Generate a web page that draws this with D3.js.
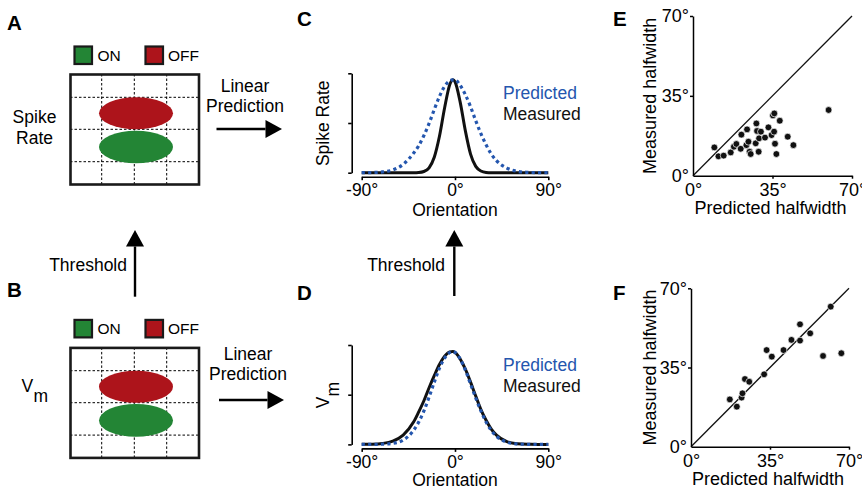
<!DOCTYPE html>
<html>
<head>
<meta charset="utf-8">
<script src="https://cdnjs.cloudflare.com/ajax/libs/d3/7.8.5/d3.min.js"></script>
<style>
body { margin: 0; background: #fff; }
svg { font-family: 'Liberation Sans', Arial, Helvetica, sans-serif; }
</style>
</head>
<body>
<div id="grafico"></div>
<script>
// tuning curves, normalised to peak
const orientations = [-90, -80, -70, -60, -50, -40, -35, -30, -25, -20, -15, -10, -5, -2, 0, 5, 10, 15, 20, 25, 30, 35, 40, 50, 60, 70, 80, 90]
const spikeMeasured = [0, 0, 0, 0, 0, 0.0003, 0.0024, 0.013, 0.053, 0.166, 0.392, 0.70, 0.95, 1, 0.98, 0.76, 0.45, 0.20, 0.068, 0.018, 0.003, 0, 0, 0, 0, 0, 0, 0]
const spikePredicted = [0.001, 0.002, 0.008, 0.03, 0.09, 0.21, 0.29, 0.40, 0.53, 0.68, 0.82, 0.93, 0.99, 1, 1, 0.94, 0.84, 0.71, 0.56, 0.42, 0.30, 0.20, 0.13, 0.05, 0.015, 0.004, 0.001, 0]
const vmMeasured = [0.0004, 0.002, 0.01, 0.035, 0.10, 0.24, 0.35, 0.47, 0.61, 0.74, 0.86, 0.95, 0.996, 1, 0.99, 0.92, 0.81, 0.67, 0.52, 0.375, 0.26, 0.165, 0.10, 0.03, 0.007, 0.001, 0, 0]
const vmPredicted = [0, 0.0003, 0.002, 0.011, 0.047, 0.15, 0.24, 0.36, 0.51, 0.67, 0.82, 0.93, 0.99, 1, 0.99, 0.92, 0.80, 0.65, 0.50, 0.36, 0.24, 0.15, 0.088, 0.025, 0.005, 0.001, 0, 0]
const orientationTicks = [-90, 0, 90]

// halfwidths (degrees)
const halfwidthTicks = [0, 35, 70]
const spikePredHW = [9.4, 11.2, 13.5, 16.6, 18.0, 19.1, 21.3, 21.0, 23.8, 23.5, 24.4, 24.9, 25.4, 27.6, 27.9, 28.2, 29.1, 28.9, 29.9, 31.7, 33.2, 34.6, 35.2, 35.8, 35.7, 36.1, 36.7, 38.2, 41.7, 44.2, 59.7]
const spikeMeasHW = [12.4, 8.5, 8.8, 10.2, 12.7, 13.9, 18.0, 11.8, 20.3, 13.4, 14.9, 10.5, 9.5, 14.2, 22.9, 19.6, 16.4, 10.5, 19.3, 16.7, 21.2, 17.8, 26.4, 27.3, 19.3, 14.0, 9.5, 24.1, 17.1, 13.4, 28.8]
const vmPredHW = [17.2, 20.3, 22.4, 22.8, 23.9, 25.8, 32.4, 33.5, 35.8, 41.0, 44.5, 48.3, 48.3, 52.8, 58.5, 61.9, 66.6]
const vmMeasHW = [20.9, 17.7, 21.7, 23.6, 29.9, 28.7, 32.0, 42.7, 39.8, 42.7, 47.2, 54.1, 46.9, 50.1, 40.1, 61.9, 41.3]

const red = '#ad141b'
const green = '#238535'
const blue = '#2456ae'
const fs = 17.5

const svg = d3.select('#grafico')
              .append('svg')
              .attr('width', 862)
              .attr('height', 490)

// panel letters
const letters = [['A', 7, 30], ['B', 7, 297], ['C', 297, 26], ['D', 297, 300], ['E', 613, 26], ['F', 613, 300]]
svg.selectAll('text.letter')
   .data(letters)
   .enter()
   .append('text')
   .attr('class', 'letter')
   .attr('x', d => d[1])
   .attr('y', d => d[2])
   .attr('font-size', 20.5)
   .attr('font-weight', 'bold')
   .text(d => d[0])

function arrow(x1, y1, x2, y2) {
    const ang = Math.atan2(y2 - y1, x2 - x1)
    const len = 16.5, half = 9
    const bx = x2 - len * Math.cos(ang), by = y2 - len * Math.sin(ang)
    svg.append('line')
       .attr('x1', x1).attr('y1', y1)
       .attr('x2', bx).attr('y2', by)
       .attr('stroke', '#000')
       .attr('stroke-width', 2.4)
    svg.append('path')
       .attr('d', `M${x2},${y2} L${bx - half * Math.sin(ang)},${by + half * Math.cos(ang)} L${bx + half * Math.sin(ang)},${by - half * Math.cos(ang)} Z`)
       .attr('fill', '#000')
}

// receptive field maps (A and B)
function fieldMap(dy) {
    const g = svg.append('g').attr('transform', `translate(0, ${dy})`)
    const legendItems = [['ON', green, 73.5, 97.5], ['OFF', red, 144.5, 168]]
    legendItems.forEach(d => {
        g.append('rect')
         .attr('x', d[2] + 1).attr('y', 46.5)
         .attr('width', 17.5).attr('height', 17.5)
         .attr('fill', d[1])
         .attr('stroke', '#1a1a1a')
         .attr('stroke-width', 2.2)
        g.append('text')
         .attr('x', d[3]).attr('y', 61)
         .attr('font-size', 15.5)
         .text(d[0])
    })
    const xs = [101.7, 134.3, 166.7]
    const ys = [97.3, 129.3, 161.7]
    xs.forEach(x => g.append('line').attr('x1', x).attr('x2', x).attr('y1', 74).attr('y2', 184.5)
                     .attr('stroke', '#000').attr('stroke-width', 1).attr('stroke-dasharray', '2.5,2'))
    ys.forEach(y => g.append('line').attr('x1', 70).attr('x2', 199).attr('y1', y).attr('y2', y)
                     .attr('stroke', '#000').attr('stroke-width', 1).attr('stroke-dasharray', '2.5,2'))
    g.append('ellipse').attr('cx', 136).attr('cy', 113.3).attr('rx', 37).attr('ry', 16).attr('fill', red)
    g.append('ellipse').attr('cx', 136).attr('cy', 147).attr('rx', 37).attr('ry', 16.3).attr('fill', green)
    g.append('rect')
     .attr('x', 70.5).attr('y', 74.5)
     .attr('width', 128.5).attr('height', 110)
     .attr('fill', 'none')
     .attr('stroke', '#1a1a1a')
     .attr('stroke-width', 2.6)
    return g
}

const mapA = fieldMap(0)
mapA.append('text')
    .attr('text-anchor', 'middle')
    .attr('font-size', fs)
    .selectAll('tspan')
    .data(['Spike', 'Rate'])
    .enter()
    .append('tspan')
    .attr('x', 34.5)
    .attr('y', (d, i) => 123.3 + i * 20.7)
    .text(d => d)

const mapB = fieldMap(273.4)
svg.append('text').attr('x', 21.5).attr('y', 391.7).attr('font-size', fs).text('V')
svg.append('text').attr('x', 33.5).attr('y', 402.3).attr('font-size', fs).text('m')

// linear prediction labels and arrows
const linearLabels = [[245, 91.7], [248, 360]]
linearLabels.forEach(p => {
    svg.append('text')
       .attr('text-anchor', 'middle')
       .attr('font-size', fs)
       .selectAll('tspan')
       .data(['Linear', 'Prediction'])
       .enter()
       .append('tspan')
       .attr('x', p[0])
       .attr('y', (d, i) => p[1] + i * 20.3)
       .text(d => d)
})
arrow(216.5, 129, 282, 129)
arrow(219, 400, 284, 400)

// threshold arrows
arrow(135, 296.7, 135, 230)
arrow(454.3, 296, 454.3, 230)
;[127, 445].forEach(x => {
    svg.append('text')
       .attr('x', x).attr('y', 271)
       .attr('text-anchor', 'end')
       .attr('font-size', fs)
       .text('Threshold')
})

// tuning curve panels (C and D)
const x = d3.scaleLinear().domain([-90, 90]).range([361.7, 548.3])

function tuningPanel(top, measured, predicted, yLabel, titleY) {
    const base = top + 99.4
    const y = d3.scaleLinear().domain([0, 1.07]).range([base, top])
    const g = svg.append('g')

    g.append('g')
     .attr('transform', 'translate(351.7, 0)')
     .call(d3.axisLeft(y).tickValues([0, 0.535, 1.07]).tickSize(3.5).tickSizeOuter(0).tickFormat(''))
    g.append('g')
     .attr('transform', `translate(0, ${base + 4})`)
     .call(d3.axisBottom(x).tickValues(orientationTicks).tickSize(3.5).tickSizeOuter(0).tickPadding(3.5).tickFormat(d => d + '°'))
    g.selectAll('.domain, .tick line').attr('stroke', '#000').attr('stroke-width', 1.6)
    g.selectAll('.tick text').attr('font-size', fs).attr('font-family', null).attr('fill', '#000')

    const line = d3.line()
                   .x((d, i) => x(orientations[i]))
                   .y(d => y(d))
                   .curve(d3.curveMonotoneX)

    g.append('path')
     .attr('d', line(measured))
     .attr('fill', 'none')
     .attr('stroke', '#111')
     .attr('stroke-width', 3)
    g.append('path')
     .attr('d', line(predicted))
     .attr('fill', 'none')
     .attr('stroke', blue)
     .attr('stroke-width', 3.2)
     .attr('stroke-dasharray', '3.2,3.2')

    g.append('text').attr('x', 503).attr('y', top + 25.5).attr('font-size', fs).attr('fill', blue).text('Predicted')
    g.append('text').attr('x', 503).attr('y', top + 46.5).attr('font-size', fs).attr('fill', '#111').text('Measured')

    g.append('text')
     .attr('x', 455).attr('y', titleY)
     .attr('text-anchor', 'middle')
     .attr('font-size', fs)
     .text('Orientation')

    const lab = g.append('text')
                 .attr('transform', `translate(328.5, ${top + 50}) rotate(-90)`)
                 .attr('text-anchor', 'middle')
                 .attr('font-size', fs)
    lab.append('tspan').text(yLabel[0])
    if (yLabel[1]) lab.append('tspan').attr('dy', 10.5).attr('font-size', fs).text(yLabel[1])
}

tuningPanel(73.3, spikeMeasured, spikePredicted, ['Spike Rate'], 215.5)
tuningPanel(345, vmMeasured, vmPredicted, ['V', 'm'], 485.5)

// halfwidth scatter panels (E and F)
function scatterPanel(x0, x1, y0, y1, preds, meas) {
    const sx = d3.scaleLinear().domain([0, 70]).range([x0, x1])
    const sy = d3.scaleLinear().domain([0, 70]).range([y0, y1])
    const g = svg.append('g')

    g.append('line')
     .attr('x1', sx(0)).attr('y1', sy(0))
     .attr('x2', sx(70)).attr('y2', sy(70))
     .attr('stroke', '#111')
     .attr('stroke-width', 1.3)

    g.append('g')
     .attr('transform', `translate(0, ${y0})`)
     .call(d3.axisBottom(sx).tickValues(halfwidthTicks).tickSize(3).tickSizeOuter(0).tickPadding(4.5).tickFormat(d => d + '°'))
    g.append('g')
     .attr('transform', `translate(${x0}, 0)`)
     .call(d3.axisLeft(sy).tickValues(halfwidthTicks).tickSize(3).tickSizeOuter(0).tickPadding(1).tickFormat(d => d + '°'))
    g.selectAll('.domain, .tick line').attr('stroke', '#000').attr('stroke-width', 1.5)
    g.selectAll('.tick text').attr('font-size', 18).attr('font-family', null).attr('fill', '#000')
    g.selectAll('.tick').filter(d => d === 0).selectAll('line').remove()

    g.selectAll('circle')
     .data(preds)
     .enter()
     .append('circle')
     .attr('cx', d => sx(d))
     .attr('cy', (d, i) => sy(meas[i]))
     .attr('r', 3.4)
     .attr('fill', '#111')
     .attr('stroke', '#fff')
     .attr('stroke-width', 0.7)

    g.append('text')
     .attr('x', (x0 + x1) / 2 - 2).attr('y', y0 + 38)
     .attr('text-anchor', 'middle')
     .attr('font-size', 18)
     .text('Predicted halfwidth')
    g.append('text')
     .attr('transform', `translate(655.5, ${(y0 + y1) / 2}) rotate(-90)`)
     .attr('text-anchor', 'middle')
     .attr('font-size', 18)
     .text('Measured halfwidth')
}

scatterPanel(693, 852, 175.7, 16, spikePredHW, spikeMeasHW)
scatterPanel(691, 849, 446.7, 288.3, vmPredHW, vmMeasHW)
</script>
</body>
</html>
